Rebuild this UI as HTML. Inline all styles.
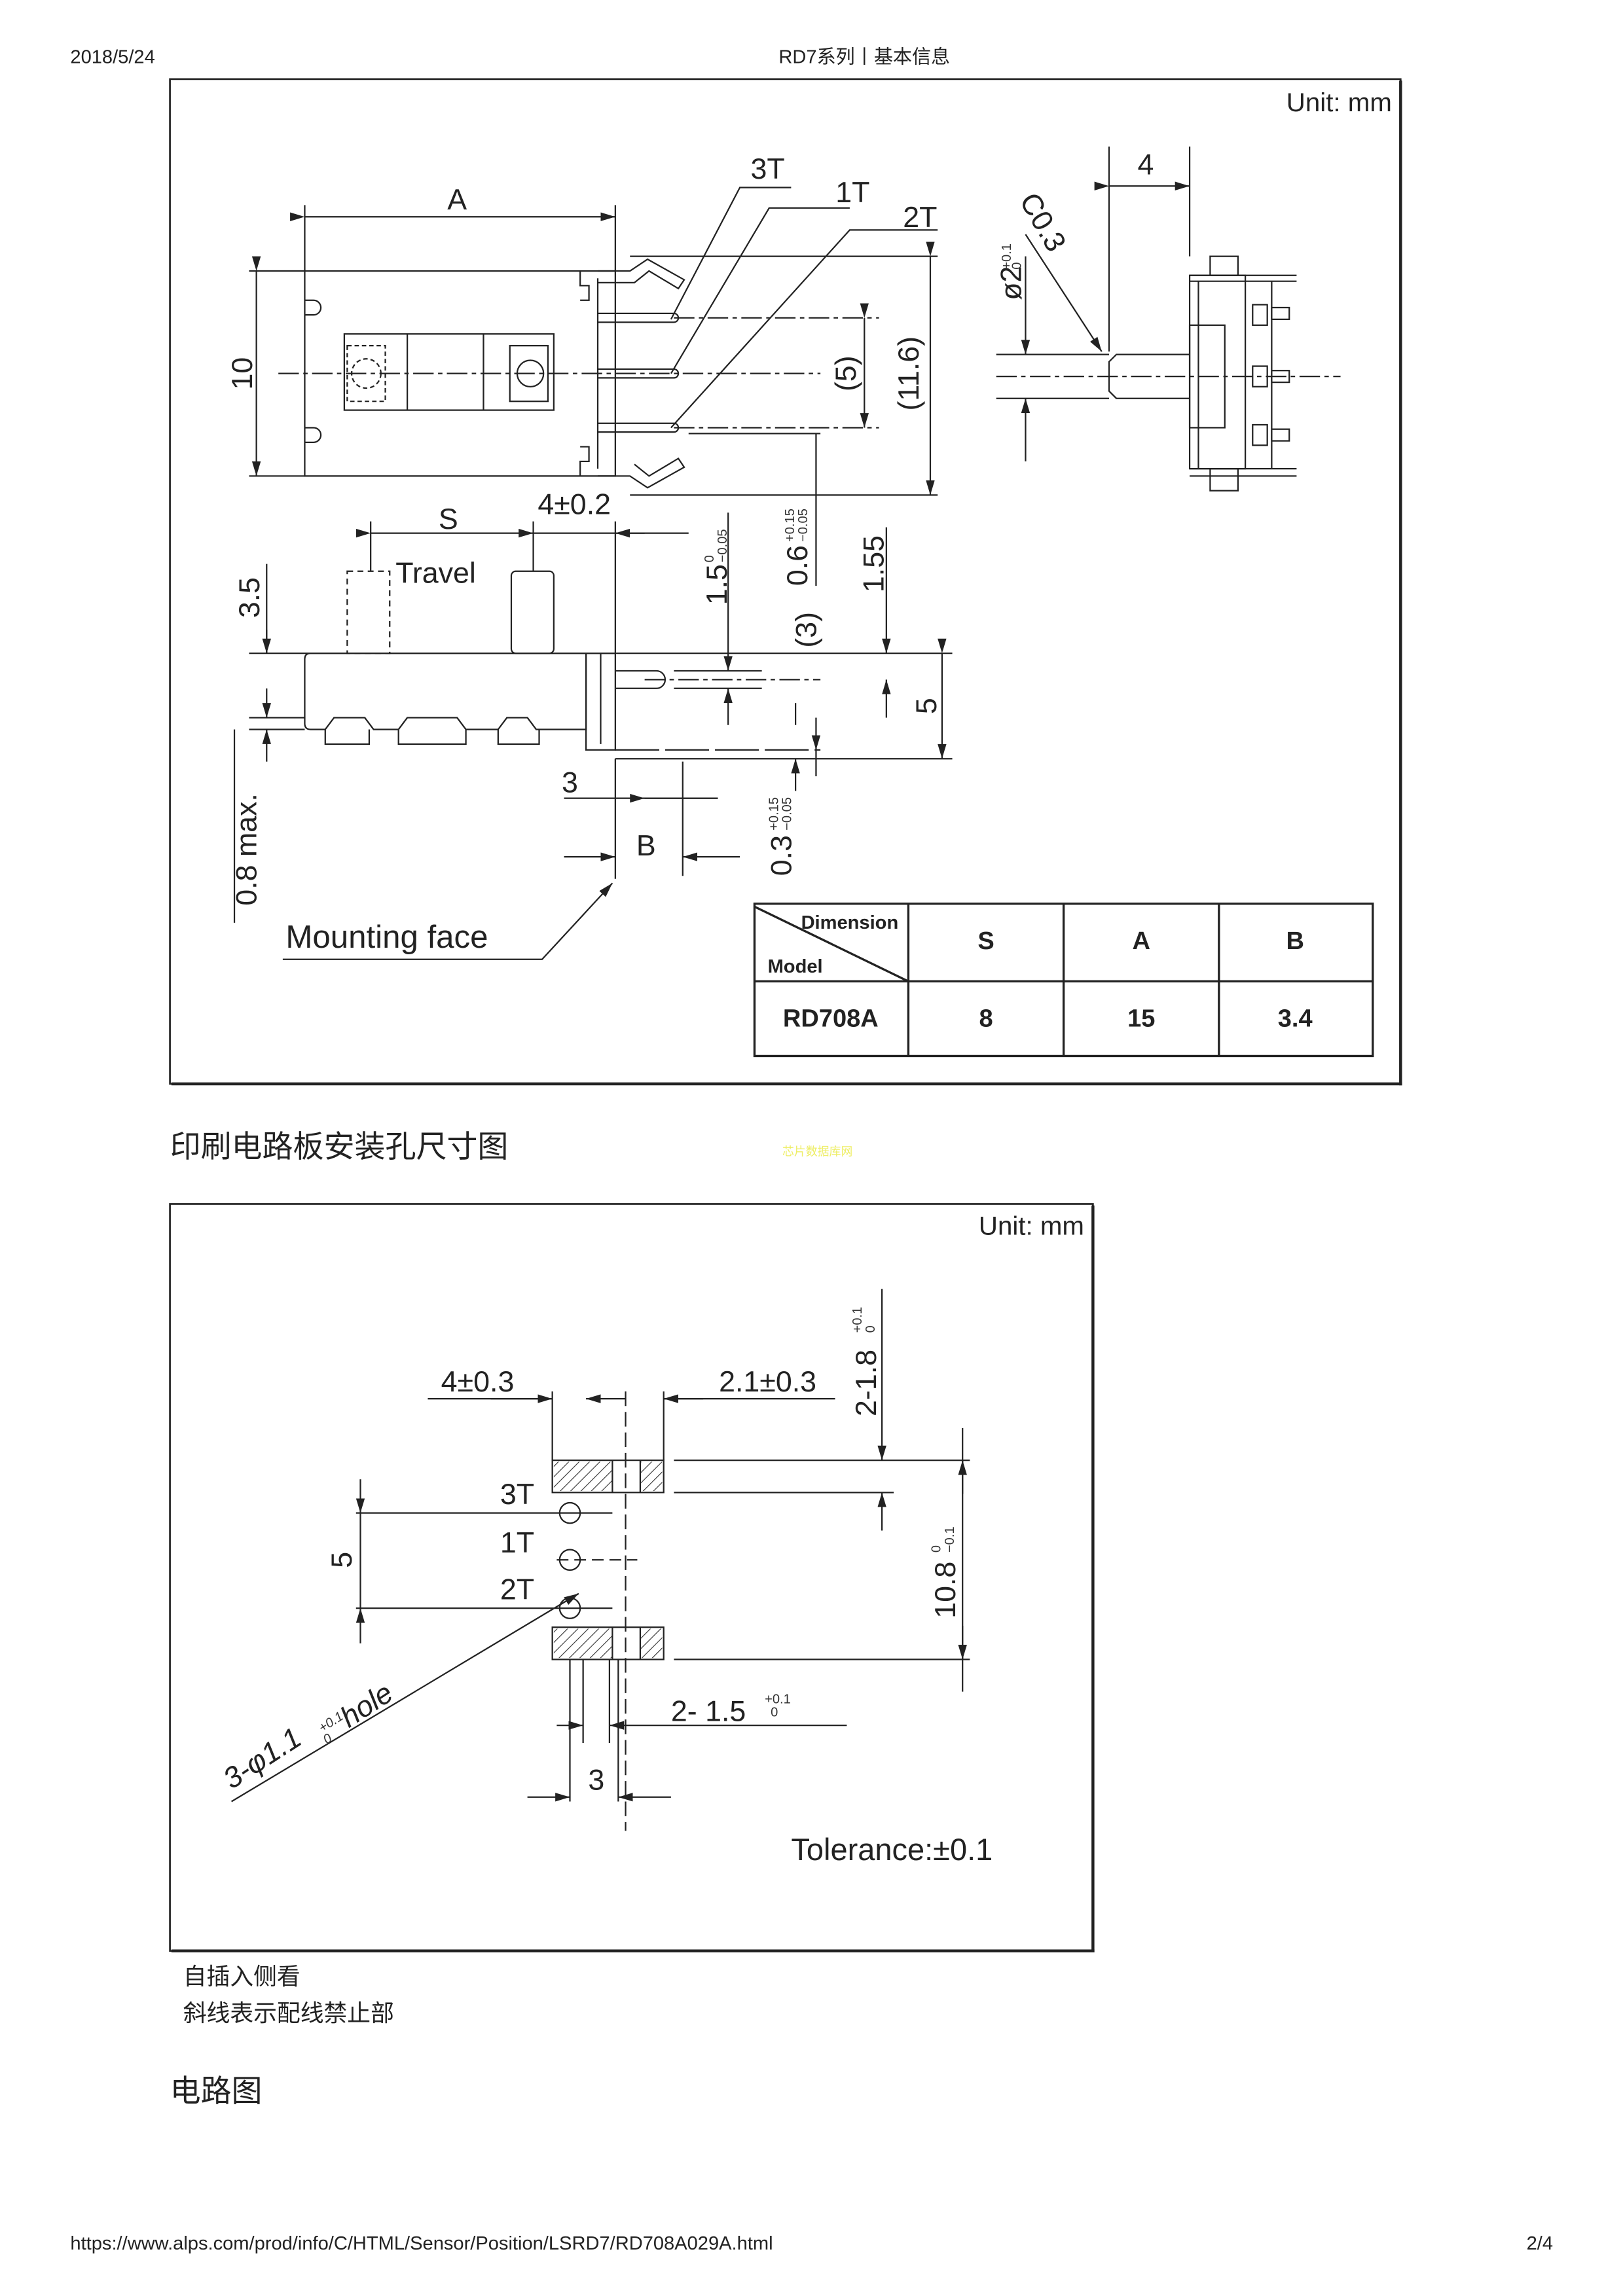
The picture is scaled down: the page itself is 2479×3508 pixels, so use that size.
<!DOCTYPE html>
<html><head><meta charset="utf-8">
<style>
html,body{margin:0;padding:0;background:#fff}
svg{display:block}
text{font-family:"Liberation Sans","Noto Sans CJK SC",sans-serif;fill:#222}
.d{font-size:20px;fill:#333}
.s{font-size:9px;fill:#333}
</style></head><body>
<svg width="2479" height="3508" viewBox="0 0 1107.8 1567.6" xmlns="http://www.w3.org/2000/svg">
<defs>
<marker id="a" markerWidth="10" markerHeight="6" refX="10" refY="3" orient="auto" markerUnits="userSpaceOnUse"><path d="M0,0 L10,3 L0,6z" fill="#222"/></marker>
<pattern id="h" width="5" height="5" patternUnits="userSpaceOnUse" patternTransform="rotate(45)"><line x1="0" y1="0" x2="0" y2="5" stroke="#333" stroke-width="1"/></pattern>
</defs>
<g>
<text x="48" y="43" font-size="13">2018/5/24</text>
<text x="590" y="43" font-size="13" text-anchor="middle">RD7系列丨基本信息</text>

<!-- Frame 1 -->
<rect x="116" y="54" width="840" height="686" fill="none" stroke="#222" stroke-width="1.2"/>
<line x1="117" y1="740" x2="957" y2="740" stroke="#222" stroke-width="2"/>
<line x1="956" y1="55" x2="956" y2="741" stroke="#222" stroke-width="2"/>
<text x="950" y="76" font-size="18" text-anchor="end">Unit: mm</text>

<g stroke="#222" stroke-width="1" fill="none">
<!-- top view -->
<rect x="208" y="185" width="212" height="140"/>
<path d="M208,205 h6 a5,5 0 0 1 0,10 h-6 M208,292 h6 a5,5 0 0 1 0,10 h-6"/>
<rect x="235" y="228" width="143" height="52"/>
<line x1="278" y1="228" x2="278" y2="280"/><line x1="330" y1="228" x2="330" y2="280"/>
<rect x="348" y="236" width="26" height="38"/>
<circle cx="362" cy="255" r="9"/>
<circle cx="250" cy="255" r="10" stroke-dasharray="3,2"/>
<rect x="237" y="236" width="26" height="38" stroke-dasharray="3,2"/>
<line x1="190" y1="255" x2="560" y2="255" stroke-dasharray="14,3,3,3"/>
<path d="M396,185 v10 h6 v10 h-6 M396,325 v-10 h6 v-10 h-6"/>
<line x1="408" y1="190" x2="408" y2="320"/>
<path d="M408,185 h22 l12,-8 l25,14 l-4,6 l-20,-12 l-10,8 h-25"/>
<path d="M408,325 h22 l12,8 l25,-14 l-4,-6 l-20,12 l-10,-8"/>
<path d="M408,214 h52 a3,3 0 0 1 0,6 h-52 M408,252 h52 a3,3 0 0 1 0,6 h-52 M408,289 h52 a3,3 0 0 1 0,6 h-52"/>
<line x1="460" y1="217" x2="600" y2="217" stroke-dasharray="14,3,3,3"/>
<line x1="460" y1="292" x2="600" y2="292" stroke-dasharray="14,3,3,3"/>
<line x1="470" y1="296" x2="560" y2="296"/>
<!-- A -->
<line x1="208" y1="140" x2="208" y2="185"/><line x1="420" y1="140" x2="420" y2="185"/>
<line x1="208" y1="148" x2="420" y2="148" marker-start="url(#a)" marker-end="url(#a)"/>
<!-- 10 -->
<line x1="170" y1="185" x2="208" y2="185"/><line x1="170" y1="325" x2="208" y2="325"/>
<line x1="175" y1="185" x2="175" y2="325" marker-start="url(#a)" marker-end="url(#a)"/>
<!-- leaders -->
<path d="M540,128 h-35 L458,218"/><path d="M580,142 h-55 L458,255"/><path d="M640,157 h-60 L458,292"/>
<!-- 11.6 -->
<line x1="430" y1="175" x2="640" y2="175"/><line x1="430" y1="338" x2="640" y2="338"/>
<line x1="635" y1="175" x2="635" y2="338" marker-start="url(#a)" marker-end="url(#a)"/>
<line x1="590" y1="217" x2="590" y2="292" marker-start="url(#a)" marker-end="url(#a)"/>
<line x1="557" y1="296" x2="557" y2="400"/>

<!-- side view right -->
<line x1="757" y1="100" x2="757" y2="240"/><line x1="812" y1="100" x2="812" y2="175"/>
<line x1="757" y1="127" x2="812" y2="127" marker-start="url(#a)" marker-end="url(#a)"/>
<line x1="700" y1="160" x2="752" y2="240" marker-end="url(#a)"/>
<line x1="680" y1="242" x2="757" y2="242"/><line x1="680" y1="272" x2="757" y2="272"/>
<line x1="700" y1="175" x2="700" y2="242" marker-end="url(#a)"/><line x1="700" y1="315" x2="700" y2="272" marker-end="url(#a)"/>
<path d="M812,242 h-50 l-5,5 v20 l5,5 h50"/>
<rect x="812" y="188" width="38" height="132"/>
<rect x="826" y="175" width="19" height="13"/><rect x="826" y="320" width="19" height="15"/>
<line x1="812" y1="188" x2="885" y2="188"/><line x1="812" y1="320" x2="885" y2="320"/>
<line x1="812" y1="192" x2="885" y2="192"/><line x1="812" y1="325" x2="885" y2="325"/>
<line x1="818" y1="192" x2="818" y2="320"/><line x1="868" y1="192" x2="868" y2="320"/>
<rect x="812" y="222" width="24" height="70"/>
<rect x="855" y="208" width="10" height="14"/><rect x="855" y="250" width="10" height="14"/><rect x="855" y="290" width="10" height="14"/>
<rect x="868" y="210" width="12" height="8"/><rect x="868" y="253" width="12" height="8"/><rect x="868" y="293" width="12" height="8"/>
<line x1="680" y1="257" x2="915" y2="257" stroke-dasharray="14,3,3,3"/>

<!-- bottom side view -->
<path d="M212,446 H400 V498 H366 L360,490 H346 L340,498 H318 L312,490 H278 L272,498 H255 L249,490 H228 L222,498 H212 Q208,498 208,494 V450 Q208,446 212,446"/>
<path d="M222,498 v10 h30 v-10 M272,498 v10 h46 v-10 M340,498 v10 h28 v-10"/>
<rect x="237" y="390" width="29" height="56" stroke-dasharray="4,3"/>
<rect x="349" y="390" width="29" height="56" rx="3"/>
<path d="M400,446 v66 h20 v-66 z M410,446 v62"/>
<path d="M420,458 h28 a6,6 0 0 1 0,12 h-28"/>
<line x1="440" y1="464" x2="560" y2="464" stroke-dasharray="14,3,3,3"/>
<line x1="460" y1="458" x2="520" y2="458"/><line x1="460" y1="470" x2="520" y2="470"/>
<line x1="420" y1="512" x2="560" y2="512" stroke-dasharray="30,4"/>
<line x1="420" y1="518" x2="650" y2="518"/>
<line x1="170" y1="446" x2="650" y2="446"/>
<line x1="170" y1="490" x2="208" y2="490"/><line x1="170" y1="498" x2="208" y2="498"/>
<line x1="182" y1="385" x2="182" y2="446" /><line x1="182" y1="430" x2="182" y2="446" marker-end="url(#a)"/>
<line x1="182" y1="470" x2="182" y2="490" marker-end="url(#a)"/>
<line x1="182" y1="520" x2="182" y2="498" marker-end="url(#a)"/><line x1="160" y1="498" x2="160" y2="630"/>
<!-- S -->
<line x1="253" y1="356" x2="253" y2="390"/><line x1="420" y1="356" x2="420" y2="446"/>
<line x1="364" y1="356" x2="364" y2="390"/>
<line x1="253" y1="364" x2="364" y2="364" marker-start="url(#a)" marker-end="url(#a)"/>
<line x1="364" y1="364" x2="470" y2="364"/><line x1="440" y1="364" x2="420" y2="364" marker-end="url(#a)"/>
<!-- verticals -->
<line x1="497" y1="350" x2="497" y2="458" marker-end="url(#a)"/><line x1="497" y1="495" x2="497" y2="470" marker-end="url(#a)"/>
<line x1="543" y1="540" x2="543" y2="518" marker-end="url(#a)"/><line x1="543" y1="480" x2="543" y2="495"/>
<line x1="557" y1="490" x2="557" y2="512" marker-end="url(#a)"/><line x1="557" y1="530" x2="557" y2="512"/>
<line x1="605" y1="360" x2="605" y2="446" marker-end="url(#a)"/><line x1="605" y1="490" x2="605" y2="464" marker-end="url(#a)"/>
<line x1="643" y1="446" x2="643" y2="518" marker-start="url(#a)" marker-end="url(#a)"/>
<!-- 3 / B -->
<line x1="420" y1="518" x2="420" y2="600"/><line x1="466" y1="520" x2="466" y2="598"/>
<line x1="385" y1="545" x2="420" y2="545"/><line x1="420" y1="545" x2="490" y2="545"/>
<line x1="466" y1="545" x2="490" y2="545"/><line x1="440" y1="545" x2="466" y2="545" marker-start="url(#a)"/>
<line x1="385" y1="585" x2="420" y2="585" marker-end="url(#a)"/><line x1="505" y1="585" x2="466" y2="585" marker-end="url(#a)"/>
<!-- mounting face -->
<path d="M193,655 H370 L418,603" marker-end="url(#a)"/>
</g>
<g class="d">
<text x="312" y="143" text-anchor="middle">A</text>
<text transform="translate(172,255) rotate(-90)" text-anchor="middle">10</text>
<text x="524" y="122" text-anchor="middle">3T</text>
<text x="582" y="138" text-anchor="middle">1T</text>
<text x="628" y="155" text-anchor="middle">2T</text>
<text transform="translate(627,255) rotate(-90)" text-anchor="middle">(11.6)</text>
<text transform="translate(584,255) rotate(-90)" text-anchor="middle">(5)</text>
<text x="782" y="119" text-anchor="middle">4</text>
<text transform="translate(706,155) rotate(60)" text-anchor="middle">C0.3</text>
<text transform="translate(697,205) rotate(-90)">ø2</text>
<text transform="translate(690,184) rotate(-90)" class="s">+0.1</text>
<text transform="translate(697,184) rotate(-90)" class="s">0</text>
<text x="306" y="361" text-anchor="middle">S</text>
<text x="392" y="351" text-anchor="middle">4±0.2</text>
<text x="270" y="398">Travel</text>
<text transform="translate(177,408) rotate(-90)" text-anchor="middle">3.5</text>
<text transform="translate(175,580) rotate(-90)" text-anchor="middle">0.8 max.</text>
<text transform="translate(496,413) rotate(-90)">1.5</text>
<text transform="translate(487,384) rotate(-90)" class="s">0</text>
<text transform="translate(496,384) rotate(-90)" class="s">−0.05</text>
<text transform="translate(551,400) rotate(-90)">0.6</text>
<text transform="translate(542,370) rotate(-90)" class="s">+0.15</text>
<text transform="translate(551,370) rotate(-90)" class="s">−0.05</text>
<text transform="translate(603,385) rotate(-90)" text-anchor="middle">1.55</text>
<text transform="translate(557,430) rotate(-90)" text-anchor="middle">(3)</text>
<text transform="translate(639,482) rotate(-90)" text-anchor="middle">5</text>
<text x="389" y="541" text-anchor="middle">3</text>
<text x="441" y="584" text-anchor="middle">B</text>
<text transform="translate(540,598) rotate(-90)">0.3</text>
<text transform="translate(531,567) rotate(-90)" class="s">+0.15</text>
<text transform="translate(540,567) rotate(-90)" class="s">−0.05</text>
<text x="195" y="647" font-size="22" fill="#555">Mounting face</text>
</g>

<!-- table -->
<g stroke="#222" stroke-width="1.5" fill="none">
<rect x="515" y="617" width="422" height="104"/>
<line x1="515" y1="670" x2="937" y2="670"/>
<line x1="620" y1="617" x2="620" y2="721"/><line x1="726" y1="617" x2="726" y2="721"/><line x1="832" y1="617" x2="832" y2="721"/>
<line x1="515" y1="619" x2="620" y2="670"/>
</g>
<g font-weight="bold">
<text x="580" y="634" font-size="13" text-anchor="middle">Dimension</text>
<text x="524" y="664" font-size="13">Model</text>
<text x="673" y="648" font-size="17" text-anchor="middle">S</text>
<text x="779" y="648" font-size="17" text-anchor="middle">A</text>
<text x="884" y="648" font-size="17" text-anchor="middle">B</text>
<text x="567" y="701" font-size="17" text-anchor="middle">RD708A</text>
<text x="673" y="701" font-size="17" text-anchor="middle">8</text>
<text x="779" y="701" font-size="17" text-anchor="middle">15</text>
<text x="884" y="701" font-size="17" text-anchor="middle">3.4</text>
</g>

<text x="116" y="790" font-size="21">印刷电路板安装孔尺寸图</text>
<text x="534" y="789" font-size="8" style="fill:#ee6">芯片数据库网</text>

<!-- Frame 2 -->
<rect x="116" y="822" width="630" height="510" fill="none" stroke="#222" stroke-width="1.2"/>
<line x1="117" y1="1332" x2="747" y2="1332" stroke="#222" stroke-width="2"/>
<line x1="746" y1="823" x2="746" y2="1333" stroke="#222" stroke-width="2"/>
<text x="740" y="843" font-size="18" text-anchor="end">Unit: mm</text>
<g stroke="#222" stroke-width="1" fill="none">
<rect x="377" y="997" width="76" height="22"/><rect x="377" y="1111" width="76" height="22"/>
<rect x="378" y="998" width="40" height="20" fill="url(#h)" stroke="none"/><rect x="437" y="998" width="15" height="20" fill="url(#h)" stroke="none"/>
<rect x="378" y="1112" width="40" height="20" fill="url(#h)" stroke="none"/><rect x="437" y="1112" width="15" height="20" fill="url(#h)" stroke="none"/>
<line x1="418" y1="997" x2="418" y2="1019"/><line x1="437" y1="997" x2="437" y2="1019"/>
<line x1="418" y1="1111" x2="418" y2="1133"/><line x1="437" y1="1111" x2="437" y2="1133"/>
<line x1="427" y1="950" x2="427" y2="1250" stroke-dasharray="10,4"/>
<circle cx="389" cy="1033" r="7"/><circle cx="389" cy="1065" r="7"/><circle cx="389" cy="1098" r="7"/>
<line x1="380" y1="1065" x2="435" y2="1065" stroke-dasharray="8,4"/>
<line x1="243" y1="1033" x2="418" y2="1033"/><line x1="243" y1="1098" x2="418" y2="1098"/>
<line x1="246" y1="1010" x2="246" y2="1033" marker-end="url(#a)"/><line x1="246" y1="1122" x2="246" y2="1098" marker-end="url(#a)"/>
<line x1="246" y1="1033" x2="246" y2="1098"/>
<line x1="377" y1="950" x2="377" y2="997"/><line x1="453" y1="950" x2="453" y2="997"/>
<line x1="292" y1="955" x2="377" y2="955"/><line x1="335" y1="955" x2="377" y2="955" marker-end="url(#a)"/><line x1="427" y1="955" x2="400" y2="955" marker-end="url(#a)"/>
<line x1="570" y1="955" x2="453" y2="955"/><line x1="480" y1="955" x2="453" y2="955" marker-end="url(#a)"/>
<line x1="460" y1="997" x2="662" y2="997"/><line x1="460" y1="1019" x2="610" y2="1019"/>
<line x1="602" y1="880" x2="602" y2="997" marker-end="url(#a)"/><line x1="602" y1="1045" x2="602" y2="1019" marker-end="url(#a)"/>
<line x1="460" y1="1133" x2="662" y2="1133"/>
<line x1="657" y1="975" x2="657" y2="1155"/><line x1="657" y1="1020" x2="657" y2="997" marker-end="url(#a)"/><line x1="657" y1="1110" x2="657" y2="1133" marker-end="url(#a)"/>
<line x1="389" y1="1133" x2="389" y2="1230"/><line x1="422" y1="1133" x2="422" y2="1230"/>
<line x1="398" y1="1133" x2="398" y2="1190"/><line x1="416" y1="1133" x2="416" y2="1190"/>
<line x1="380" y1="1178" x2="398" y2="1178" marker-end="url(#a)"/><line x1="578" y1="1178" x2="416" y2="1178" marker-end="url(#a)"/>
<line x1="360" y1="1227" x2="389" y2="1227" marker-end="url(#a)"/><line x1="458" y1="1227" x2="422" y2="1227" marker-end="url(#a)"/>
<line x1="158" y1="1230" x2="395" y2="1088" marker-end="url(#a)"/>
</g>
<g class="d">
<text x="326" y="950" text-anchor="middle">4±0.3</text>
<text x="524" y="950" text-anchor="middle">2.1±0.3</text>
<text x="353" y="1027" text-anchor="middle">3T</text>
<text x="353" y="1060" text-anchor="middle">1T</text>
<text x="353" y="1092" text-anchor="middle">2T</text>
<text transform="translate(240,1065) rotate(-90)" text-anchor="middle">5</text>
<text transform="translate(598,967) rotate(-90)">2-1.8</text>
<text transform="translate(588,910) rotate(-90)" class="s">+0.1</text>
<text transform="translate(597,910) rotate(-90)" class="s">0</text>
<text transform="translate(652,1105) rotate(-90)">10.8</text>
<text transform="translate(642,1060) rotate(-90)" class="s">0</text>
<text transform="translate(651,1060) rotate(-90)" class="s">−0.1</text>
<text x="458" y="1175">2- 1.5</text>
<text x="522" y="1163" class="s">+0.1</text><text x="526" y="1172" class="s">0</text>
<text x="407" y="1222" text-anchor="middle">3</text>
<text transform="translate(158,1222) rotate(-33)" font-style="italic">3-φ1.1</text>
<text transform="translate(220,1183) rotate(-33)" font-style="italic" class="s">+0.1</text>
<text transform="translate(223,1191) rotate(-33)" font-style="italic" class="s">0</text>
<text transform="translate(238,1180) rotate(-33)" font-style="italic">hole</text>
<text x="540" y="1270" font-size="21">Tolerance:±0.1</text>
</g>
<text x="125" y="1355" font-size="16">自插入侧看</text>
<text x="125" y="1380" font-size="16">斜线表示配线禁止部</text>
<text x="116" y="1435" font-size="21">电路图</text>
<text x="48" y="1536" font-size="13">https://www.alps.com/prod/info/C/HTML/Sensor/Position/LSRD7/RD708A029A.html</text>
<text x="1060" y="1536" font-size="13" text-anchor="end">2/4</text>
</g>
</svg>
</body></html>
